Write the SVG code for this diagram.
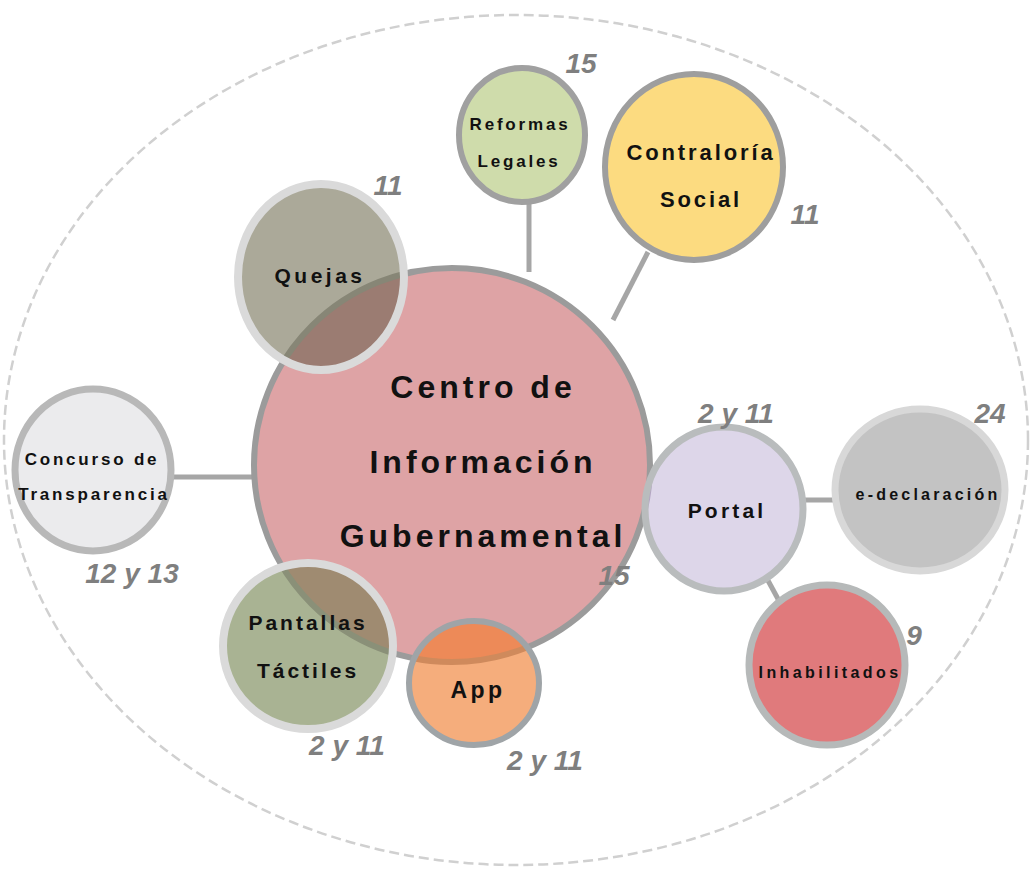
<svg xmlns="http://www.w3.org/2000/svg" width="1030" height="880" viewBox="0 0 1030 880">
<style>
.lbl{font-family:"Liberation Sans",Arial,sans-serif;font-weight:bold;fill:#111;text-anchor:middle}
.num{font-family:"Liberation Sans",Arial,sans-serif;font-weight:bold;font-style:italic;fill:#7f7f7f;font-size:28px;text-anchor:middle}
.conn{stroke:#a6a6a6;stroke-width:5;fill:none}
</style>
<defs>
<clipPath id="clipMain"><ellipse cx="452" cy="465" rx="198" ry="197"/></clipPath>
<clipPath id="clipQ"><ellipse cx="321" cy="277" rx="83" ry="93"/></clipPath>
<clipPath id="clipP"><ellipse cx="308" cy="646" rx="85" ry="83"/></clipPath>
<clipPath id="clipA"><ellipse cx="474" cy="683" rx="65" ry="62"/></clipPath>
<clipPath id="clipPo"><ellipse cx="724" cy="509" rx="79" ry="82"/></clipPath>
</defs>
<rect width="1030" height="880" fill="#ffffff"/>
<ellipse cx="516" cy="440" rx="512" ry="425" fill="none" stroke="#d0d0d0" stroke-width="2.5" stroke-dasharray="10 5"/>
<g id="connectors">
<line class="conn" x1="529" y1="200" x2="529" y2="272"/>
<line class="conn" x1="648" y1="252" x2="613" y2="320"/>
<line class="conn" x1="170" y1="477" x2="254" y2="477"/>
<line class="conn" x1="803" y1="500" x2="836" y2="500"/>
<line class="conn" x1="765" y1="575" x2="784" y2="610"/>
</g>
<g id="centro">
<ellipse cx="452" cy="465" rx="198" ry="197" fill="#dea3a5" stroke="#9b9b9b" stroke-width="6"/>
<text class="lbl" font-size="32" letter-spacing="4" x="483" y="398">Centro de</text>
<text class="lbl" font-size="32" letter-spacing="4" x="483" y="473">Información</text>
<text class="lbl" font-size="32" letter-spacing="4" x="483" y="547">Gubernamental</text>
</g>
<g id="reformas">
<ellipse cx="522" cy="135" rx="63" ry="67" fill="#cfdcab" stroke="#a0a0a0" stroke-width="6"/>
<text class="lbl" font-size="17" letter-spacing="2.8" x="520" y="130">Reformas</text>
<text class="lbl" font-size="17" letter-spacing="2.8" x="519" y="167">Legales</text>
</g>
<g id="contraloria">
<ellipse cx="694" cy="167" rx="89" ry="93" fill="#fcdb80" stroke="#9e9e9e" stroke-width="6"/>
<text class="lbl" font-size="22" letter-spacing="2.9" x="701" y="160">Contraloría</text>
<text class="lbl" font-size="22" letter-spacing="2.9" x="701" y="207">Social</text>
</g>
<g id="quejas">
<ellipse cx="321" cy="277" rx="83" ry="93" fill="#aba999"/>
<g clip-path="url(#clipMain)"><ellipse cx="321" cy="277" rx="83" ry="93" fill="#9b7c72"/></g>
<g clip-path="url(#clipQ)"><ellipse cx="452" cy="465" rx="198" ry="197" fill="none" stroke="#878676" stroke-width="6"/></g>
<ellipse cx="321" cy="277" rx="83" ry="93" fill="none" stroke="#dadada" stroke-width="8"/>
<text class="lbl" font-size="21" letter-spacing="3.5" x="320" y="283">Quejas</text>
</g>
<g id="concurso">
<ellipse cx="93" cy="470" rx="78" ry="81" fill="#ebebed" stroke="#b8b8b8" stroke-width="7"/>
<text class="lbl" font-size="17" letter-spacing="2.8" x="92" y="465">Concurso de</text>
<text class="lbl" font-size="17" letter-spacing="2.8" x="94" y="500">Transparencia</text>
</g>
<g id="pantallas">
<ellipse cx="308" cy="646" rx="85" ry="83" fill="#a9b393"/>
<g clip-path="url(#clipMain)"><ellipse cx="308" cy="646" rx="85" ry="83" fill="#9f8b71"/></g>
<g clip-path="url(#clipP)"><ellipse cx="452" cy="465" rx="198" ry="197" fill="none" stroke="#8a9078" stroke-width="6"/></g>
<ellipse cx="308" cy="646" rx="85" ry="83" fill="none" stroke="#dadada" stroke-width="8"/>
<text class="lbl" font-size="21" letter-spacing="3" x="308" y="630">Pantallas</text>
<text class="lbl" font-size="21" letter-spacing="3" x="308" y="678">Táctiles</text>
</g>
<g id="app">
<ellipse cx="474" cy="683" rx="65" ry="62" fill="#f5ad7c"/>
<g clip-path="url(#clipMain)"><ellipse cx="474" cy="683" rx="65" ry="62" fill="#ed8a58"/></g>
<g clip-path="url(#clipA)"><ellipse cx="452" cy="465" rx="198" ry="197" fill="none" stroke="#cf8a5c" stroke-width="6"/></g>
<ellipse cx="474" cy="683" rx="65" ry="62" fill="none" stroke="#9fa4a7" stroke-width="6"/>
<text class="lbl" font-size="23" letter-spacing="3.5" x="478" y="698">App</text>
</g>
<g id="portal">
<ellipse cx="724" cy="509" rx="79" ry="82" fill="#ddd6e9"/>
<g clip-path="url(#clipMain)"><ellipse cx="724" cy="509" rx="79" ry="82" fill="#c9a9c6"/></g>
<g clip-path="url(#clipPo)"><ellipse cx="452" cy="465" rx="198" ry="197" fill="none" stroke="#b3a5c2" stroke-width="6"/></g>
<ellipse cx="724" cy="509" rx="79" ry="82" fill="none" stroke="#b9bcbd" stroke-width="7"/>
<text class="lbl" font-size="21" letter-spacing="3.2" x="727" y="518">Portal</text>
</g>
<g id="edeclaracion">
<ellipse cx="920" cy="490" rx="85" ry="81" fill="#c3c3c3" stroke="#d8d8d8" stroke-width="7"/>
<text class="lbl" font-size="16" letter-spacing="3.2" x="928" y="500">e-declaración</text>
</g>
<g id="inhabilitados">
<ellipse cx="827" cy="665" rx="78" ry="80" fill="#e07a7c" stroke="#b6b9b9" stroke-width="7"/>
<text class="lbl" font-size="16" letter-spacing="3.4" x="830" y="678">Inhabilitados</text>
</g>
<g id="labels">
<text class="num" x="581" y="73">15</text>
<text class="num" x="388" y="195">11</text>
<text class="num" x="805" y="224">11</text>
<text class="num" x="736" y="423">2 y 11</text>
<text class="num" x="990" y="423">24</text>
<text class="num" x="614" y="585">15</text>
<text class="num" x="132" y="583">12 y 13</text>
<text class="num" x="914" y="645">9</text>
<text class="num" x="347" y="755">2 y 11</text>
<text class="num" x="545" y="770">2 y 11</text>
</g>
</svg>
